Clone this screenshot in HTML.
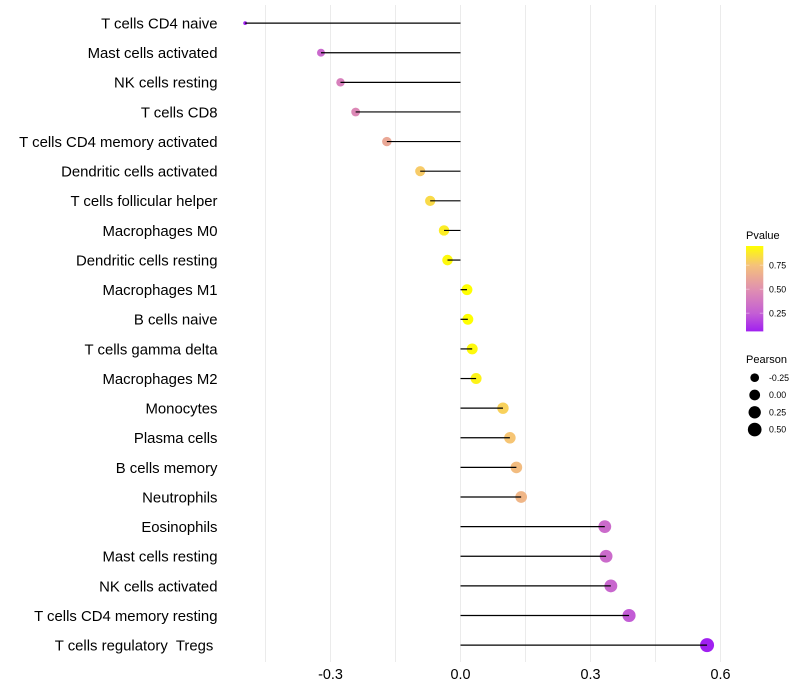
<!DOCTYPE html>
<html>
<head>
<meta charset="utf-8">
<title>Immune cell correlation lollipop chart</title>
<style>
html,body{margin:0;padding:0;background:#fff;width:800px;height:700px;overflow:hidden}
svg{display:block}
text{font-family:"Liberation Sans",sans-serif;fill:#000;white-space:pre}
</style>
</head>
<body>
<svg id="chart" xmlns="http://www.w3.org/2000/svg" width="800" height="700" viewBox="0 0 800 700"></svg>
<script>
const categories = ["T cells CD4 naive","Mast cells activated","NK cells resting","T cells CD8","T cells CD4 memory activated","Dendritic cells activated","T cells follicular helper","Macrophages M0","Dendritic cells resting","Macrophages M1","B cells naive","T cells gamma delta","Macrophages M2","Monocytes","Plasma cells","B cells memory","Neutrophils","Eosinophils","Mast cells resting","NK cells activated","T cells CD4 memory resting","T cells regulatory  Tregs "];
const pearson = [-0.497,-0.322,-0.277,-0.242,-0.170,-0.093,-0.070,-0.038,-0.030,0.015,0.017,0.027,0.036,0.098,0.114,0.129,0.140,0.333,0.336,0.347,0.389,0.569];
const pvalue = [0.06,0.30,0.42,0.46,0.62,0.78,0.83,0.89,0.93,0.95,0.95,0.93,0.91,0.80,0.76,0.72,0.69,0.31,0.31,0.29,0.24,0.06];
const xTicks = [-0.3,0,0.3,0.6];
const xGrid = [-0.45,-0.3,-0.15,0,0.15,0.3,0.45,0.6];
const pvalueTicks = [0.75,0.50,0.25];
const pearsonLegend = [-0.25,0,0.25,0.5];

const NS = "http://www.w3.org/2000/svg";
const svg = document.getElementById("chart");
function xScale(v){ return 460.5 + v * 433.3; }
function yScale(i){ return 23.1 + i * 29.62; }
const sizeMin = -0.497, sizeMax = 0.569;
function radius(v){
  const t = Math.max(0, Math.min(1, (v - sizeMin) / (sizeMax - sizeMin)));
  return 1.9 + 5.1 * Math.sqrt(t);
}
function lerp(a,b,t){ return a + (b - a) * t; }
const ramp = [[0.06,160,32,240],[0.25,196,95,212],[0.5,224,144,176],[0.75,245,194,122],[0.95,255,255,0]];
function color(p){
  let c = Math.max(0.06, Math.min(0.95, p));
  for (let k = 0; k < ramp.length - 1; k++) {
    const a = ramp[k], b = ramp[k + 1];
    if (c <= b[0]) {
      const t = (c - a[0]) / (b[0] - a[0]);
      return "rgb(" + Math.round(lerp(a[1],b[1],t)) + "," + Math.round(lerp(a[2],b[2],t)) + "," + Math.round(lerp(a[3],b[3],t)) + ")";
    }
  }
  return "rgb(255,255,0)";
}
function make(tag, attrs, parent){
  const el = document.createElementNS(NS, tag);
  for (const k in attrs) el.setAttribute(k, attrs[k]);
  (parent || svg).appendChild(el);
  return el;
}

xGrid.forEach(function(v){
  const g = make("line", {x1:xScale(v), x2:xScale(v), y1:5, y2:662, stroke:"#ebebeb", "stroke-width":1});
  
  
});

categories.forEach(function(name, i){
  const label = make("text", {x:217.5, y:yScale(i) + 5.4, "text-anchor":"end", "font-size":14.9});
  label.textContent = name;
  
  
});

categories.forEach(function(name, i){
  const pt = make("circle", {cx:xScale(pearson[i]), cy:yScale(i), r:radius(pearson[i]), fill:color(pvalue[i])});
  
  
  const seg = make("line", {x1:xScale(0), x2:xScale(pearson[i]), y1:yScale(i), y2:yScale(i), stroke:"#000", "stroke-width":1.2});
  
  
});

xTicks.forEach(function(v){
  const t = make("text", {x:xScale(v), y:679, "text-anchor":"middle", "font-size":14.4});
  t.textContent = v.toFixed(1);
  
  
});

/* Pvalue legend */
const pTitle = make("text", {x:746, y:239, "font-size":11});
pTitle.textContent = "Pvalue";



const defs = make("defs", {});
const grad = make("linearGradient", {id:"pv", x1:0, y1:1, x2:0, y2:0}, defs);
const pMin = 0.06, pMax = 0.95;
ramp.forEach(function(s){
  make("stop", {offset:(s[0] - pMin) / (pMax - pMin), "stop-color":"rgb(" + s[1] + "," + s[2] + "," + s[3] + ")"}, grad);
});
const bar = make("rect", {x:746, y:246, width:17.3, height:85.4, fill:"url(#pv)"});



function barY(p){ return 331.4 - (p - pMin) * 96; }
pvalueTicks.forEach(function(p){
  const y = barY(p);
  const a = make("line", {x1:746, x2:749.5, y1:y, y2:y, stroke:"#fff", "stroke-opacity":0.55, "stroke-width":0.7});
  
  
  const b = make("line", {x1:759.8, x2:763.3, y1:y, y2:y, stroke:"#fff", "stroke-opacity":0.55, "stroke-width":0.7});
  
  
  const t = make("text", {x:769, y:y + 3.1, "font-size":8.8});
  t.textContent = p.toFixed(2);
  
  
});

/* Pearson legend */
const sTitle = make("text", {x:746, y:363, "font-size":11});
sTitle.textContent = "Pearson";



pearsonLegend.forEach(function(v, i){
  const y = 377.7 + i * 17.3;
  const c = make("circle", {cx:754.7, cy:y, r:radius(v), fill:"#000"});
  
  
  const t = make("text", {x:769, y:y + 3.1, "font-size":8.8});
  t.textContent = v.toFixed(2);
  
  
});
</script>
</body>
</html>
